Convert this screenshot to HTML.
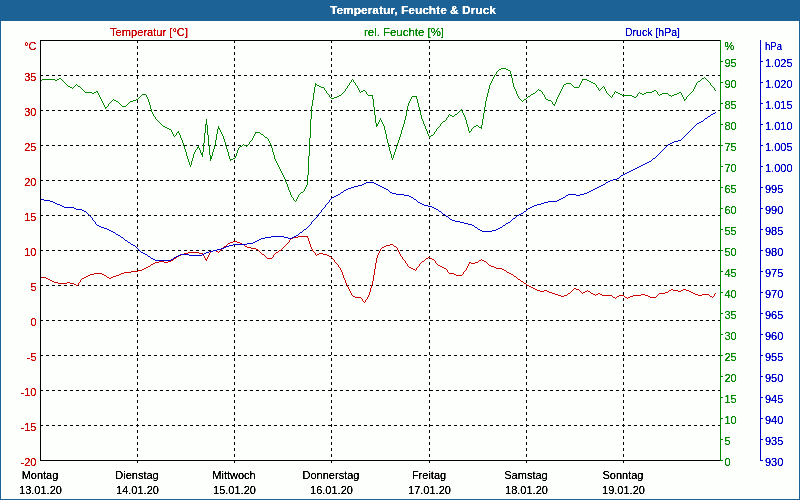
<!DOCTYPE html>
<html><head><meta charset="utf-8"><title>Temperatur, Feuchte &amp; Druck</title>
<style>
html,body{margin:0;padding:0;}
body{width:800px;height:500px;overflow:hidden;background:#fdfffc;font-family:"Liberation Sans",sans-serif;}
svg{display:block;position:absolute;left:0;top:0;will-change:transform;}
text{font-family:"Liberation Sans",sans-serif;font-size:11px;}
.t{font-weight:bold;fill:#fff;}
text{filter:url(#al);}
.r{fill:#cc0000}.g{fill:#008800}.b{fill:#0000cc}.k{fill:#000}
.cv{fill:none;stroke-width:1;stroke-linejoin:round;stroke-linecap:round;}
</style></head><body>
<svg width="800" height="500" viewBox="0 0 800 500">
<defs><filter id="al" x="0" y="0" width="100%" height="100%" filterUnits="userSpaceOnUse" color-interpolation-filters="sRGB"><feComponentTransfer><feFuncA type="linear" slope="2.2" intercept="-0.25"/></feComponentTransfer></filter></defs>
<rect x="0" y="0" width="800" height="500" fill="#1d6296"/>
<rect x="1" y="21" width="798" height="478" fill="#fdfffc"/>
<text class="t" x="413" y="14" text-anchor="middle" textLength="166" lengthAdjust="spacingAndGlyphs">Temperatur, Feuchte &amp; Druck</text>
<text class="r" x="110" y="36" textLength="78" lengthAdjust="spacingAndGlyphs">Temperatur [°C]</text>
<text class="g" x="364" y="36" textLength="80" lengthAdjust="spacingAndGlyphs">rel. Feuchte [%]</text>
<text class="b" x="625" y="36" textLength="55" lengthAdjust="spacingAndGlyphs">Druck [hPa]</text>
<g shape-rendering="crispEdges" stroke="#000" stroke-width="1" fill="none">
<line x1="40" y1="75.5" x2="720" y2="75.5" stroke-dasharray="3,3"/>
<line x1="40" y1="110.5" x2="720" y2="110.5" stroke-dasharray="3,3"/>
<line x1="40" y1="145.5" x2="720" y2="145.5" stroke-dasharray="3,3"/>
<line x1="40" y1="180.5" x2="720" y2="180.5" stroke-dasharray="3,3"/>
<line x1="40" y1="215.5" x2="720" y2="215.5" stroke-dasharray="3,3"/>
<line x1="40" y1="250.5" x2="720" y2="250.5" stroke-dasharray="3,3"/>
<line x1="40" y1="285.5" x2="720" y2="285.5" stroke-dasharray="3,3"/>
<line x1="40" y1="320.5" x2="720" y2="320.5" stroke-dasharray="3,3"/>
<line x1="40" y1="355.5" x2="720" y2="355.5" stroke-dasharray="3,3"/>
<line x1="40" y1="390.5" x2="720" y2="390.5" stroke-dasharray="3,3"/>
<line x1="40" y1="425.5" x2="720" y2="425.5" stroke-dasharray="3,3"/>
<line x1="137.5" y1="40" x2="137.5" y2="460" stroke-dasharray="3,3"/>
<line x1="137.5" y1="461" x2="137.5" y2="463"/>
<line x1="234.5" y1="40" x2="234.5" y2="460" stroke-dasharray="3,3"/>
<line x1="234.5" y1="461" x2="234.5" y2="463"/>
<line x1="331.5" y1="40" x2="331.5" y2="460" stroke-dasharray="3,3"/>
<line x1="331.5" y1="461" x2="331.5" y2="463"/>
<line x1="429.5" y1="40" x2="429.5" y2="460" stroke-dasharray="3,3"/>
<line x1="429.5" y1="461" x2="429.5" y2="463"/>
<line x1="526.5" y1="40" x2="526.5" y2="460" stroke-dasharray="3,3"/>
<line x1="526.5" y1="461" x2="526.5" y2="463"/>
<line x1="623.5" y1="40" x2="623.5" y2="460" stroke-dasharray="3,3"/>
<line x1="623.5" y1="461" x2="623.5" y2="463"/>
</g>
<g shape-rendering="crispEdges" stroke="#008800" stroke-width="1">
<line x1="720.5" y1="40" x2="720.5" y2="461"/>
<line x1="721" y1="460.5" x2="723" y2="460.5"/>
<line x1="721" y1="439.5" x2="723" y2="439.5"/>
<line x1="721" y1="418.5" x2="723" y2="418.5"/>
<line x1="721" y1="397.5" x2="723" y2="397.5"/>
<line x1="721" y1="376.5" x2="723" y2="376.5"/>
<line x1="721" y1="355.5" x2="723" y2="355.5"/>
<line x1="721" y1="334.5" x2="723" y2="334.5"/>
<line x1="721" y1="313.5" x2="723" y2="313.5"/>
<line x1="721" y1="292.5" x2="723" y2="292.5"/>
<line x1="721" y1="271.5" x2="723" y2="271.5"/>
<line x1="721" y1="250.5" x2="723" y2="250.5"/>
<line x1="721" y1="229.5" x2="723" y2="229.5"/>
<line x1="721" y1="208.5" x2="723" y2="208.5"/>
<line x1="721" y1="187.5" x2="723" y2="187.5"/>
<line x1="721" y1="166.5" x2="723" y2="166.5"/>
<line x1="721" y1="145.5" x2="723" y2="145.5"/>
<line x1="721" y1="124.5" x2="723" y2="124.5"/>
<line x1="721" y1="103.5" x2="723" y2="103.5"/>
<line x1="721" y1="82.5" x2="723" y2="82.5"/>
<line x1="721" y1="61.5" x2="723" y2="61.5"/>
</g>
<g shape-rendering="crispEdges" stroke="#0000cc" stroke-width="1">
<line x1="760.5" y1="40" x2="760.5" y2="461"/>
<line x1="761" y1="460.5" x2="763" y2="460.5"/>
<line x1="761" y1="439.5" x2="763" y2="439.5"/>
<line x1="761" y1="418.5" x2="763" y2="418.5"/>
<line x1="761" y1="397.5" x2="763" y2="397.5"/>
<line x1="761" y1="376.5" x2="763" y2="376.5"/>
<line x1="761" y1="355.5" x2="763" y2="355.5"/>
<line x1="761" y1="334.5" x2="763" y2="334.5"/>
<line x1="761" y1="313.5" x2="763" y2="313.5"/>
<line x1="761" y1="292.5" x2="763" y2="292.5"/>
<line x1="761" y1="271.5" x2="763" y2="271.5"/>
<line x1="761" y1="250.5" x2="763" y2="250.5"/>
<line x1="761" y1="229.5" x2="763" y2="229.5"/>
<line x1="761" y1="208.5" x2="763" y2="208.5"/>
<line x1="761" y1="187.5" x2="763" y2="187.5"/>
<line x1="761" y1="166.5" x2="763" y2="166.5"/>
<line x1="761" y1="145.5" x2="763" y2="145.5"/>
<line x1="761" y1="124.5" x2="763" y2="124.5"/>
<line x1="761" y1="103.5" x2="763" y2="103.5"/>
<line x1="761" y1="82.5" x2="763" y2="82.5"/>
<line x1="761" y1="61.5" x2="763" y2="61.5"/>
</g>
<g class="r" text-anchor="end">
<text x="36.5" y="50">°C</text>
<text x="36.5" y="81">35</text>
<text x="36.5" y="116">30</text>
<text x="36.5" y="151">25</text>
<text x="36.5" y="186">20</text>
<text x="36.5" y="221">15</text>
<text x="36.5" y="256">10</text>
<text x="36.5" y="291">5</text>
<text x="36.5" y="326">0</text>
<text x="36.5" y="361">-5</text>
<text x="36.5" y="396">-10</text>
<text x="36.5" y="431">-15</text>
<text x="36.5" y="466">-20</text>
</g>
<g class="g">
<text x="724.5" y="50">%</text>
<text x="724.5" y="67">95</text>
<text x="724.5" y="88">90</text>
<text x="724.5" y="109">85</text>
<text x="724.5" y="130">80</text>
<text x="724.5" y="151">75</text>
<text x="724.5" y="172">70</text>
<text x="724.5" y="193">65</text>
<text x="724.5" y="214">60</text>
<text x="724.5" y="235">55</text>
<text x="724.5" y="256">50</text>
<text x="724.5" y="277">45</text>
<text x="724.5" y="298">40</text>
<text x="724.5" y="319">35</text>
<text x="724.5" y="340">30</text>
<text x="724.5" y="361">25</text>
<text x="724.5" y="382">20</text>
<text x="724.5" y="403">15</text>
<text x="724.5" y="424">10</text>
<text x="724.5" y="445">5</text>
<text x="724.5" y="466">0</text>
</g>
<g class="b">
<text x="765" y="50" textLength="17" lengthAdjust="spacingAndGlyphs">hPa</text>
<text x="765" y="67">1.025</text>
<text x="765" y="88">1.020</text>
<text x="765" y="109">1.015</text>
<text x="765" y="130">1.010</text>
<text x="765" y="151">1.005</text>
<text x="765" y="172">1.000</text>
<text x="765" y="193">995</text>
<text x="765" y="214">990</text>
<text x="765" y="235">985</text>
<text x="765" y="256">980</text>
<text x="765" y="277">975</text>
<text x="765" y="298">970</text>
<text x="765" y="319">965</text>
<text x="765" y="340">960</text>
<text x="765" y="361">955</text>
<text x="765" y="382">950</text>
<text x="765" y="403">945</text>
<text x="765" y="424">940</text>
<text x="765" y="445">935</text>
<text x="765" y="466">930</text>
</g>
<g class="k" text-anchor="middle">
<text x="40" y="479">Montag</text>
<text x="40.5" y="494">13.01.20</text>
<text x="137" y="479">Dienstag</text>
<text x="137.5" y="494">14.01.20</text>
<text x="234" y="479">Mittwoch</text>
<text x="234.5" y="494">15.01.20</text>
<text x="331" y="479">Donnerstag</text>
<text x="331.5" y="494">16.01.20</text>
<text x="429" y="479">Freitag</text>
<text x="429.5" y="494">17.01.20</text>
<text x="526" y="479">Samstag</text>
<text x="526.5" y="494">18.01.20</text>
<text x="623" y="479">Sonntag</text>
<text x="623.5" y="494">19.01.20</text>
</g>
<g shape-rendering="crispEdges" fill="none" stroke-width="1" transform="translate(0,0.5)">
<path stroke="#cc0000" d="M298 236h10M293 237h5M307 237h1M291 238h2M308 238h1M290 239h1M308 239h1M289 240h1M308 240h1M233 241h4M289 241h1M309 241h1M230 242h3M237 242h3M288 242h1M309 242h1M228 243h2M240 243h2M287 243h1M309 243h1M227 244h1M242 244h2M286 244h1M310 244h1M390 244h3M226 245h1M244 245h1M285 245h1M310 245h1M386 245h4M393 245h1M224 246h2M245 246h2M284 246h1M310 246h1M384 246h2M394 246h2M223 247h1M247 247h4M283 247h1M311 247h1M382 247h2M396 247h1M222 248h1M251 248h5M282 248h1M311 248h1M381 248h1M397 248h1M221 249h1M256 249h2M281 249h1M312 249h1M380 249h1M397 249h1M213 250h3M220 250h1M258 250h1M279 250h2M312 250h1M380 250h1M398 250h1M210 251h3M216 251h2M219 251h1M259 251h1M278 251h1M313 251h1M379 251h1M398 251h1M188 252h11M210 252h1M218 252h1M260 252h1M276 252h2M314 252h1M379 252h1M399 252h1M184 253h4M199 253h4M209 253h1M261 253h1M275 253h1M315 253h1M319 253h4M378 253h1M399 253h1M181 254h3M203 254h1M209 254h1M262 254h2M274 254h1M315 254h1M317 254h2M323 254h4M378 254h1M400 254h1M179 255h2M203 255h1M208 255h1M264 255h1M273 255h1M316 255h1M327 255h2M377 255h1M400 255h1M177 256h2M204 256h1M208 256h1M265 256h1M273 256h1M329 256h2M377 256h1M401 256h1M176 257h1M204 257h1M207 257h1M266 257h1M272 257h1M331 257h1M377 257h1M402 257h1M428 257h2M174 258h2M205 258h1M207 258h1M267 258h5M332 258h1M376 258h1M402 258h1M426 258h2M430 258h2M173 259h1M205 259h2M333 259h1M376 259h1M403 259h1M425 259h1M432 259h2M481 259h1M171 260h2M206 260h1M334 260h1M376 260h1M404 260h1M424 260h1M434 260h1M479 260h2M482 260h2M159 261h5M168 261h3M334 261h1M376 261h1M405 261h1M422 261h2M435 261h1M478 261h1M484 261h2M155 262h4M164 262h4M335 262h1M376 262h1M405 262h1M421 262h1M435 262h1M469 262h2M475 262h3M486 262h1M153 263h2M336 263h1M375 263h1M406 263h1M420 263h1M436 263h1M469 263h1M471 263h4M487 263h1M151 264h2M337 264h1M375 264h1M407 264h1M419 264h1M437 264h1M468 264h1M488 264h1M150 265h1M338 265h1M375 265h1M407 265h1M419 265h1M438 265h2M468 265h1M489 265h2M148 266h2M338 266h1M375 266h1M408 266h1M418 266h1M440 266h2M467 266h1M491 266h3M146 267h2M339 267h1M375 267h1M409 267h2M417 267h1M442 267h2M467 267h1M494 267h2M144 268h2M340 268h1M375 268h1M411 268h2M416 268h1M444 268h2M466 268h1M496 268h6M142 269h2M340 269h1M374 269h1M413 269h2M416 269h1M446 269h1M466 269h1M502 269h2M138 270h4M341 270h1M374 270h1M415 270h1M447 270h1M465 270h1M504 270h2M131 271h7M341 271h1M374 271h1M447 271h1M464 271h1M506 271h1M124 272h7M342 272h1M374 272h1M448 272h1M463 272h1M507 272h2M94 273h8M121 273h3M342 273h1M374 273h1M449 273h5M463 273h1M509 273h2M90 274h4M102 274h2M119 274h2M342 274h1M374 274h1M454 274h2M462 274h1M511 274h2M88 275h2M104 275h2M116 275h3M343 275h1M373 275h1M456 275h6M513 275h1M86 276h2M106 276h1M113 276h3M343 276h1M373 276h1M514 276h2M40 277h6M84 277h2M107 277h2M111 277h2M343 277h1M373 277h1M516 277h1M46 278h2M82 278h2M109 278h2M344 278h1M373 278h1M517 278h1M48 279h2M81 279h1M344 279h1M373 279h1M518 279h2M50 280h2M80 280h1M345 280h1M373 280h1M520 280h1M52 281h2M80 281h1M345 281h1M372 281h1M521 281h2M54 282h4M67 282h3M79 282h1M345 282h1M372 282h1M523 282h1M58 283h9M70 283h4M78 283h1M346 283h1M372 283h1M524 283h2M74 284h2M78 284h1M346 284h1M372 284h1M526 284h1M76 285h2M347 285h1M371 285h1M527 285h2M347 286h1M371 286h1M529 286h2M348 287h1M371 287h1M531 287h2M348 288h1M370 288h1M533 288h2M574 288h2M349 289h1M370 289h1M535 289h2M573 289h1M576 289h3M671 289h2M683 289h3M349 290h1M370 290h1M537 290h3M544 290h3M572 290h1M579 290h1M587 290h1M669 290h2M673 290h5M681 290h2M686 290h3M350 291h1M370 291h1M540 291h4M547 291h2M571 291h1M580 291h1M585 291h2M588 291h2M668 291h1M678 291h3M689 291h2M350 292h1M369 292h1M549 292h3M570 292h1M581 292h1M583 292h2M590 292h1M665 292h3M691 292h2M351 293h1M369 293h1M552 293h3M568 293h2M582 293h1M591 293h2M598 293h2M659 293h6M693 293h2M715 293h1M351 294h1M369 294h1M555 294h3M567 294h1M593 294h2M596 294h2M600 294h2M641 294h4M658 294h1M695 294h3M702 294h7M714 294h1M352 295h1M368 295h1M558 295h3M564 295h3M595 295h1M602 295h10M619 295h5M633 295h8M645 295h3M657 295h1M698 295h4M709 295h1M714 295h1M353 296h2M368 296h1M561 296h3M612 296h1M617 296h2M624 296h1M630 296h3M648 296h2M656 296h1M710 296h2M713 296h1M355 297h6M367 297h1M613 297h2M616 297h1M625 297h2M628 297h2M650 297h6M712 297h1M361 298h1M367 298h1M615 298h1M627 298h1M362 299h1M366 299h1M362 300h1M365 300h1M363 301h1M365 301h1M364 302h1"/>
<path stroke="#008800" d="M501 68h5M499 69h2M506 69h2M498 70h1M508 70h2M497 71h1M510 71h1M496 72h1M510 72h1M496 73h1M510 73h1M495 74h1M511 74h1M494 75h1M511 75h1M494 76h1M511 76h1M493 77h1M511 77h1M704 77h1M59 78h2M493 78h1M512 78h1M702 78h2M705 78h1M42 79h13M57 79h2M61 79h1M352 79h1M492 79h1M512 79h1M582 79h5M701 79h1M706 79h1M40 80h2M55 80h2M62 80h1M351 80h1M353 80h1M492 80h1M512 80h1M582 80h1M587 80h2M700 80h1M707 80h1M63 81h1M351 81h1M353 81h1M491 81h1M512 81h1M581 81h1M589 81h2M698 81h2M708 81h1M64 82h1M350 82h1M354 82h1M491 82h1M512 82h1M581 82h1M591 82h2M697 82h1M709 82h1M65 83h1M315 83h1M349 83h1M355 83h1M490 83h1M513 83h1M566 83h5M580 83h1M593 83h2M696 83h1M710 83h1M66 84h1M76 84h1M315 84h2M349 84h1M355 84h1M490 84h1M513 84h1M564 84h2M571 84h1M580 84h1M595 84h1M696 84h1M710 84h1M67 85h1M75 85h1M77 85h1M315 85h1M317 85h2M348 85h1M356 85h1M489 85h1M513 85h1M563 85h1M572 85h1M579 85h1M596 85h1M695 85h1M711 85h1M68 86h2M74 86h1M78 86h2M315 86h1M319 86h2M347 86h1M357 86h1M489 86h1M513 86h1M563 86h1M573 86h1M579 86h1M596 86h1M603 86h1M695 86h1M712 86h1M70 87h2M73 87h1M80 87h1M314 87h1M321 87h3M347 87h1M357 87h1M489 87h1M514 87h1M562 87h1M574 87h5M597 87h1M602 87h1M604 87h1M694 87h1M713 87h1M72 88h1M81 88h1M314 88h1M324 88h1M346 88h1M358 88h1M489 88h1M514 88h1M562 88h1M598 88h1M601 88h1M604 88h1M694 88h1M714 88h1M82 89h1M314 89h1M324 89h1M345 89h1M358 89h1M488 89h1M515 89h1M538 89h1M561 89h1M598 89h1M600 89h1M605 89h1M693 89h1M714 89h1M83 90h1M314 90h1M325 90h1M345 90h1M359 90h1M363 90h2M488 90h1M515 90h1M537 90h1M539 90h2M561 90h1M599 90h1M605 90h1M654 90h2M693 90h1M715 90h1M84 91h1M96 91h2M314 91h1M326 91h1M344 91h1M359 91h1M361 91h2M365 91h1M488 91h1M516 91h1M536 91h1M541 91h1M560 91h1M606 91h1M615 91h1M652 91h2M656 91h1M692 91h1M85 92h7M94 92h2M97 92h1M314 92h1M326 92h1M343 92h1M360 92h1M366 92h1M488 92h1M516 92h1M535 92h1M542 92h1M560 92h1M606 92h1M614 92h1M616 92h2M639 92h1M646 92h6M657 92h1M679 92h2M691 92h1M92 93h2M98 93h1M313 93h1M327 93h1M342 93h1M366 93h1M487 93h1M516 93h1M533 93h2M542 93h1M559 93h1M607 93h1M614 93h1M618 93h2M638 93h1M640 93h2M644 93h2M657 93h1M662 93h6M677 93h2M681 93h1M690 93h1M98 94h1M142 94h4M313 94h1M328 94h1M341 94h1M367 94h1M487 94h1M517 94h1M531 94h2M543 94h1M559 94h1M608 94h1M613 94h1M620 94h2M637 94h1M642 94h2M658 94h1M660 94h2M668 94h1M674 94h3M681 94h1M689 94h1M99 95h1M141 95h1M146 95h1M313 95h1M329 95h1M339 95h2M368 95h5M487 95h1M517 95h1M530 95h1M544 95h1M558 95h1M609 95h1M612 95h1M622 95h10M637 95h1M659 95h1M669 95h2M672 95h2M682 95h1M688 95h1M99 96h1M140 96h1M146 96h1M313 96h1M329 96h1M337 96h2M372 96h1M412 96h5M487 96h1M518 96h1M528 96h2M544 96h1M558 96h1M610 96h1M612 96h1M632 96h2M636 96h1M671 96h1M682 96h1M687 96h1M100 97h1M139 97h1M147 97h1M313 97h1M330 97h1M334 97h3M372 97h1M411 97h1M416 97h1M486 97h1M518 97h1M527 97h1M545 97h1M557 97h1M611 97h1M634 97h2M683 97h1M686 97h1M100 98h1M138 98h1M147 98h1M313 98h1M331 98h3M372 98h1M411 98h1M416 98h1M486 98h1M519 98h1M526 98h1M545 98h1M557 98h1M683 98h1M686 98h1M101 99h1M113 99h1M136 99h2M148 99h1M313 99h1M373 99h1M410 99h1M417 99h1M486 99h1M520 99h1M524 99h2M546 99h2M556 99h1M684 99h2M101 100h1M112 100h1M114 100h2M133 100h3M148 100h1M312 100h1M373 100h1M410 100h1M417 100h1M486 100h1M521 100h1M523 100h1M548 100h3M556 100h1M684 100h1M102 101h1M111 101h1M116 101h2M130 101h3M148 101h1M312 101h1M373 101h1M409 101h1M417 101h1M485 101h1M522 101h1M551 101h1M556 101h1M102 102h1M110 102h1M118 102h1M129 102h1M149 102h1M312 102h1M373 102h1M409 102h1M417 102h1M485 102h1M552 102h1M555 102h1M103 103h1M109 103h1M119 103h1M128 103h1M149 103h1M312 103h1M373 103h1M408 103h1M418 103h1M485 103h1M552 103h1M555 103h1M103 104h1M108 104h1M120 104h1M127 104h1M149 104h1M312 104h1M373 104h1M408 104h1M418 104h1M485 104h1M553 104h2M104 105h1M108 105h1M121 105h1M126 105h1M150 105h1M312 105h1M373 105h1M408 105h1M418 105h1M485 105h1M554 105h1M104 106h1M107 106h1M122 106h4M150 106h1M311 106h1M373 106h1M407 106h1M418 106h1M485 106h1M105 107h2M150 107h1M311 107h1M374 107h1M407 107h1M419 107h1M484 107h1M105 108h1M150 108h1M311 108h1M374 108h1M407 108h1M419 108h1M484 108h1M151 109h1M311 109h1M374 109h1M407 109h1M419 109h1M461 109h1M484 109h1M151 110h1M311 110h1M374 110h1M407 110h1M419 110h1M460 110h2M484 110h1M151 111h1M311 111h1M374 111h1M406 111h1M420 111h1M459 111h1M462 111h1M484 111h1M152 112h1M311 112h1M374 112h1M406 112h1M420 112h1M458 112h1M462 112h1M484 112h1M152 113h1M311 113h1M374 113h1M406 113h1M420 113h1M457 113h1M463 113h1M483 113h1M153 114h1M311 114h1M374 114h1M406 114h1M420 114h1M449 114h1M455 114h2M463 114h1M483 114h1M153 115h1M311 115h1M375 115h1M406 115h1M421 115h1M448 115h1M450 115h2M454 115h1M464 115h1M483 115h1M154 116h1M311 116h1M375 116h1M405 116h1M421 116h1M448 116h1M452 116h2M464 116h1M483 116h1M155 117h1M311 117h1M375 117h1M405 117h1M421 117h1M447 117h1M465 117h1M483 117h1M155 118h1M311 118h1M375 118h1M380 118h1M405 118h1M421 118h1M446 118h1M465 118h1M483 118h1M156 119h1M206 119h1M310 119h1M375 119h1M380 119h1M405 119h1M422 119h1M446 119h1M465 119h1M482 119h1M157 120h1M206 120h1M310 120h1M375 120h1M379 120h1M381 120h1M404 120h1M422 120h1M445 120h1M466 120h1M482 120h1M158 121h1M206 121h1M310 121h1M375 121h1M379 121h1M381 121h1M404 121h1M423 121h1M443 121h2M466 121h1M482 121h1M159 122h1M206 122h1M310 122h1M375 122h1M378 122h1M382 122h1M404 122h1M423 122h1M442 122h1M466 122h1M482 122h1M160 123h1M206 123h1M310 123h1M376 123h1M378 123h1M382 123h1M404 123h1M423 123h1M441 123h1M466 123h1M482 123h1M161 124h1M205 124h2M310 124h1M376 124h2M383 124h1M403 124h1M424 124h1M440 124h1M467 124h1M482 124h1M162 125h1M205 125h1M207 125h1M310 125h1M376 125h2M383 125h1M403 125h1M424 125h1M440 125h1M467 125h1M476 125h2M481 125h1M163 126h2M205 126h1M207 126h1M218 126h1M310 126h1M376 126h1M384 126h1M403 126h1M425 126h1M439 126h1M467 126h1M474 126h2M478 126h1M481 126h1M165 127h2M205 127h1M207 127h1M218 127h1M310 127h1M384 127h1M402 127h1M425 127h1M438 127h1M468 127h1M473 127h1M479 127h3M167 128h2M205 128h1M207 128h1M218 128h2M310 128h1M384 128h1M402 128h1M425 128h1M437 128h1M468 128h1M472 128h1M481 128h1M169 129h2M205 129h1M207 129h1M217 129h1M219 129h1M310 129h1M384 129h1M402 129h1M426 129h1M436 129h1M468 129h1M471 129h1M171 130h1M205 130h1M207 130h1M217 130h1M220 130h1M310 130h1M385 130h1M401 130h1M426 130h1M436 130h1M468 130h1M471 130h1M171 131h1M178 131h1M205 131h1M207 131h1M217 131h1M220 131h1M310 131h1M385 131h1M401 131h1M427 131h1M435 131h1M469 131h2M172 132h1M177 132h2M205 132h1M207 132h1M217 132h1M221 132h1M255 132h5M310 132h1M385 132h1M401 132h1M427 132h1M434 132h1M469 132h1M172 133h1M176 133h1M179 133h1M204 133h1M207 133h1M217 133h1M221 133h1M255 133h1M260 133h1M310 133h1M385 133h1M401 133h1M427 133h1M434 133h1M173 134h1M176 134h1M179 134h1M204 134h1M207 134h1M216 134h1M222 134h1M254 134h1M261 134h2M310 134h1M386 134h1M400 134h1M428 134h1M433 134h1M173 135h1M175 135h1M180 135h1M204 135h1M208 135h1M216 135h1M222 135h1M254 135h1M263 135h1M310 135h1M386 135h1M400 135h1M428 135h1M431 135h2M174 136h1M180 136h1M204 136h1M208 136h1M216 136h1M223 136h1M253 136h1M264 136h1M310 136h1M386 136h1M400 136h1M429 136h2M180 137h1M204 137h1M208 137h1M216 137h1M223 137h1M253 137h1M265 137h2M310 137h1M386 137h1M399 137h1M429 137h1M181 138h1M204 138h1M208 138h1M216 138h1M223 138h1M252 138h1M267 138h1M309 138h1M386 138h1M399 138h1M181 139h1M204 139h1M208 139h1M216 139h1M224 139h1M252 139h1M268 139h1M309 139h1M387 139h1M399 139h1M182 140h1M204 140h1M208 140h1M215 140h1M224 140h1M251 140h1M268 140h1M309 140h1M387 140h1M398 140h1M182 141h1M204 141h1M208 141h1M215 141h1M224 141h1M250 141h1M269 141h1M309 141h1M387 141h1M398 141h1M182 142h1M204 142h1M208 142h1M215 142h1M225 142h1M249 142h1M269 142h1M309 142h1M387 142h1M398 142h1M183 143h1M203 143h1M208 143h1M215 143h1M225 143h1M249 143h1M270 143h1M309 143h1M388 143h1M397 143h1M183 144h1M203 144h1M208 144h1M215 144h1M225 144h1M243 144h1M248 144h1M270 144h1M309 144h1M388 144h1M397 144h1M183 145h1M203 145h1M209 145h1M214 145h1M225 145h1M242 145h1M244 145h2M247 145h1M271 145h1M309 145h1M388 145h1M397 145h1M184 146h1M198 146h1M203 146h1M209 146h1M214 146h1M226 146h1M240 146h2M246 146h1M271 146h1M309 146h1M388 146h1M396 146h1M184 147h1M197 147h2M203 147h1M209 147h1M214 147h1M226 147h1M239 147h1M271 147h1M309 147h1M389 147h1M396 147h1M184 148h1M197 148h1M199 148h1M203 148h1M209 148h1M214 148h1M226 148h1M238 148h1M272 148h1M309 148h1M389 148h1M396 148h1M185 149h1M196 149h1M199 149h1M203 149h1M209 149h1M213 149h1M227 149h1M238 149h1M272 149h1M309 149h1M389 149h1M395 149h1M185 150h1M195 150h1M200 150h1M203 150h1M209 150h1M213 150h1M227 150h1M237 150h1M272 150h1M309 150h1M389 150h1M395 150h1M185 151h1M195 151h1M200 151h1M203 151h1M209 151h1M213 151h1M227 151h1M237 151h1M272 151h1M309 151h1M390 151h1M395 151h1M186 152h1M194 152h1M200 152h1M202 152h1M209 152h1M212 152h1M228 152h1M237 152h1M273 152h1M309 152h1M390 152h1M394 152h1M186 153h1M194 153h1M201 153h2M209 153h1M212 153h1M228 153h1M236 153h1M273 153h1M309 153h1M390 153h1M394 153h1M186 154h1M193 154h1M201 154h2M209 154h1M212 154h1M228 154h1M236 154h1M273 154h1M309 154h1M391 154h1M394 154h1M186 155h1M193 155h1M202 155h1M210 155h1M212 155h1M228 155h1M236 155h1M274 155h1M309 155h1M391 155h1M393 155h1M187 156h1M193 156h1M202 156h1M210 156h2M229 156h1M235 156h1M274 156h1M308 156h1M391 156h1M393 156h1M187 157h1M193 157h1M210 157h2M229 157h1M235 157h1M274 157h1M308 157h1M391 157h1M393 157h1M187 158h1M192 158h1M210 158h2M229 158h1M233 158h2M274 158h1M308 158h1M392 158h1M188 159h1M192 159h1M210 159h1M230 159h3M275 159h1M308 159h1M392 159h1M188 160h1M192 160h1M210 160h1M230 160h1M275 160h1M308 160h1M188 161h1M191 161h1M276 161h1M308 161h1M189 162h1M191 162h1M276 162h1M308 162h1M189 163h1M191 163h1M277 163h1M308 163h1M189 164h1M191 164h1M277 164h1M308 164h1M190 165h1M278 165h1M308 165h1M190 166h1M278 166h1M308 166h1M279 167h1M308 167h1M279 168h1M308 168h1M280 169h1M308 169h1M280 170h1M308 170h1M281 171h1M308 171h1M281 172h1M308 172h1M282 173h1M308 173h1M282 174h1M308 174h1M283 175h1M307 175h1M283 176h1M307 176h1M284 177h1M307 177h1M284 178h1M307 178h1M285 179h1M307 179h1M285 180h1M307 180h1M285 181h1M307 181h1M286 182h1M307 182h1M286 183h1M307 183h1M287 184h1M307 184h1M287 185h1M306 185h1M287 186h1M306 186h1M288 187h1M305 187h1M288 188h1M305 188h1M288 189h1M304 189h1M289 190h1M304 190h1M289 191h1M303 191h1M290 192h1M301 192h2M290 193h1M300 193h1M290 194h1M299 194h1M291 195h1M298 195h1M291 196h1M298 196h1M292 197h1M297 197h1M293 198h1M297 198h1M293 199h1M296 199h1M294 200h1M296 200h1M295 201h1"/>
<path stroke="#0000cc" d="M715 112h1M713 113h2M711 114h2M710 115h1M708 116h2M707 117h1M705 118h2M704 119h1M703 120h1M701 121h2M699 122h2M697 123h2M696 124h1M695 125h1M694 126h1M693 127h1M692 128h1M691 129h1M690 130h1M689 131h1M688 132h1M687 133h1M686 134h1M685 135h1M684 136h1M683 137h1M682 138h1M681 139h1M678 140h3M674 141h4M672 142h2M670 143h2M668 144h2M667 145h1M666 146h1M665 147h1M664 148h1M663 149h1M662 150h1M661 151h1M660 152h1M659 153h1M658 154h1M657 155h1M656 156h1M655 157h1M653 158h2M652 159h1M651 160h1M649 161h2M647 162h2M645 163h2M643 164h2M641 165h2M639 166h2M637 167h2M635 168h2M633 169h2M631 170h2M629 171h2M627 172h2M625 173h2M623 174h2M621 175h2M620 176h1M619 177h1M617 178h2M613 179h4M610 180h3M608 181h2M366 182h8M606 182h2M364 183h2M374 183h2M605 183h1M362 184h2M376 184h2M603 184h2M358 185h4M378 185h2M601 185h2M354 186h4M380 186h2M599 186h2M351 187h3M382 187h2M597 187h2M348 188h3M384 188h2M595 188h2M346 189h2M386 189h2M593 189h2M344 190h2M388 190h1M591 190h2M343 191h1M389 191h1M589 191h2M341 192h2M390 192h2M587 192h2M340 193h1M392 193h4M584 193h3M338 194h2M396 194h8M568 194h8M580 194h4M336 195h2M404 195h5M566 195h2M576 195h4M334 196h2M409 196h2M565 196h1M332 197h2M411 197h2M563 197h2M331 198h1M413 198h1M561 198h2M40 199h4M330 199h1M414 199h2M559 199h2M44 200h6M329 200h1M416 200h1M557 200h2M50 201h3M329 201h1M417 201h1M548 201h9M53 202h2M328 202h1M418 202h2M544 202h4M55 203h2M327 203h1M420 203h2M541 203h3M57 204h3M326 204h1M422 204h2M537 204h4M60 205h2M325 205h1M424 205h4M534 205h3M62 206h2M325 206h1M428 206h4M532 206h2M64 207h10M324 207h1M432 207h2M530 207h2M74 208h2M323 208h1M434 208h2M528 208h2M76 209h6M322 209h1M436 209h2M527 209h1M82 210h2M321 210h1M438 210h1M526 210h1M84 211h2M321 211h1M439 211h2M524 211h2M86 212h1M320 212h1M441 212h1M523 212h1M87 213h1M319 213h1M442 213h1M521 213h2M88 214h1M318 214h1M443 214h2M519 214h2M89 215h1M317 215h1M445 215h1M517 215h2M90 216h1M317 216h1M446 216h2M516 216h1M91 217h1M316 217h1M448 217h1M515 217h1M92 218h1M315 218h1M449 218h1M513 218h2M92 219h1M314 219h1M450 219h2M512 219h1M93 220h1M313 220h1M452 220h3M511 220h1M94 221h1M312 221h1M455 221h5M510 221h1M95 222h1M311 222h1M460 222h4M508 222h2M95 223h1M311 223h1M464 223h4M506 223h2M96 224h1M310 224h1M468 224h4M505 224h1M97 225h2M309 225h1M472 225h2M503 225h2M99 226h2M308 226h1M474 226h1M502 226h1M101 227h3M307 227h1M475 227h2M500 227h2M104 228h3M306 228h1M477 228h1M498 228h2M107 229h2M304 229h2M478 229h2M496 229h2M109 230h2M303 230h1M480 230h2M492 230h4M111 231h2M302 231h1M482 231h10M113 232h2M300 232h2M115 233h1M299 233h1M116 234h2M298 234h1M118 235h2M296 235h2M120 236h1M271 236h13M294 236h2M121 237h2M265 237h6M284 237h4M292 237h2M123 238h1M261 238h4M288 238h4M124 239h1M259 239h2M125 240h2M257 240h2M127 241h1M255 241h2M128 242h2M253 242h2M130 243h1M247 243h6M131 244h2M233 244h14M133 245h2M229 245h4M135 246h1M226 246h3M136 247h1M224 247h2M137 248h1M221 248h3M138 249h1M217 249h4M139 250h1M213 250h4M140 251h1M209 251h4M141 252h2M206 252h3M143 253h2M204 253h2M145 254h2M180 254h9M202 254h2M147 255h1M178 255h2M189 255h13M148 256h2M176 256h2M150 257h1M174 257h2M151 258h2M173 258h1M153 259h2M171 259h2M155 260h16"/>
</g>
<g shape-rendering="crispEdges" stroke="#000" stroke-width="1" fill="none">
<line x1="40.5" y1="40" x2="40.5" y2="461"/>
<line x1="40" y1="40.5" x2="720" y2="40.5"/>
<line x1="40" y1="460.5" x2="720" y2="460.5"/>
</g>
</svg></body></html>
